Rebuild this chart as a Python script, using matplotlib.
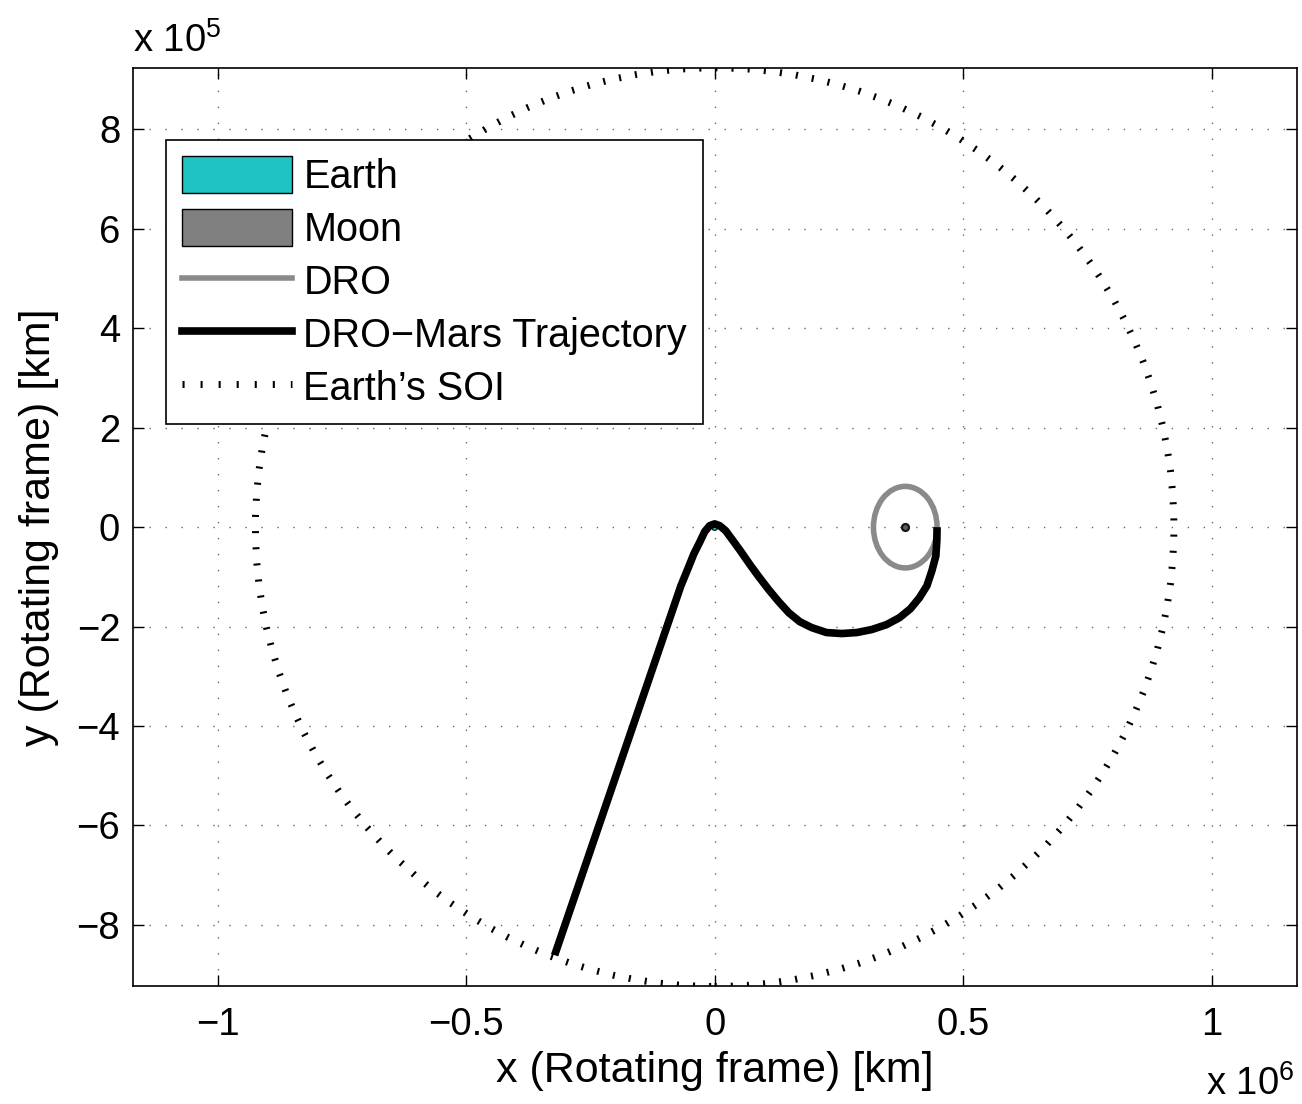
import matplotlib
matplotlib.use("Agg")
import matplotlib.pyplot as plt
from matplotlib.patches import Circle, Ellipse, Patch
from matplotlib.lines import Line2D
import matplotlib.ticker as ticker

plt.rcParams['font.family'] = ['Liberation Sans', 'DejaVu Sans']
plt.rcParams['mathtext.fontset'] = 'custom'
plt.rcParams['mathtext.rm'] = 'Liberation Sans'

# Datos (km)
soi_radius = 9.24e5
earth_radius = 6371.0
moon_x = 3.835e5
dro_half_x = 0.064e6
dro_half_y = 0.82e5

# Trayectoria DRO-Marte (x en 1e6 km, y en 1e5 km)
traj_x = [0.4475, 0.447, 0.445, 0.437, 0.427, 0.412, 0.394, 0.372, 0.346, 0.316,
          0.286, 0.256, 0.225, 0.195, 0.171, 0.149, 0.129, 0.109, 0.089, 0.070,
          0.052, 0.036, 0.022, 0.010, 0.000, -0.010, -0.020, -0.030, -0.042,
          -0.054, -0.068, -0.322]
traj_y = [0.00, -0.28, -0.58, -0.88, -1.18, -1.42, -1.64, -1.82, -1.96, -2.06,
          -2.12, -2.14, -2.12, -2.02, -1.90, -1.72, -1.50, -1.26, -1.00, -0.74,
          -0.48, -0.26, -0.07, 0.03, 0.066, 0.03, -0.09, -0.30, -0.54,
          -0.84, -1.18, -8.61]

x_ticks = [-1.0, -0.5, 0.0, 0.5, 1.0]
y_ticks = [-8, -6, -4, -2, 0, 2, 4, 6, 8]

fig = plt.figure(figsize=(13.02, 11.04), dpi=100)
ax = fig.add_axes([0.1019, 0.1069, 0.8940, 0.8312])

# Esfera de influencia de la Tierra
soi = Circle((0, 0), soi_radius, fill=False, edgecolor='k', lw=5,
             linestyle=(0, (0.3, 2.03)))
ax.add_patch(soi)

# DRO
dro = Ellipse((moon_x, 0), 2 * dro_half_x, 2 * dro_half_y, fill=False,
              edgecolor='#8a8a8a', lw=4.0, zorder=3)
ax.add_patch(dro)

# Tierra
earth = Circle((0, 0), earth_radius, facecolor='#1ec4c4', edgecolor='k',
               lw=0.8, zorder=3)
ax.add_patch(earth)

ax.plot([v * 1e6 for v in traj_x], [v * 1e5 for v in traj_y], color='k',
        lw=5.5, solid_capstyle='butt', solid_joinstyle='round', zorder=4)

# Luna
ax.plot([moon_x], [0], marker='o', ms=5, mfc='#606060', mec='#151515',
        mew=1.6, zorder=5)

ax.set_xlim(-1.171e6, 1.171e6)
ax.set_ylim(-9.23e5, 9.23e5)

ax.set_xticks([v * 1e6 for v in x_ticks])
ax.set_yticks([v * 1e5 for v in y_ticks])
ax.xaxis.set_major_formatter(ticker.FuncFormatter(
    lambda v, p: f"{v / 1e6:g}".replace('-', '\u2212')))
ax.yaxis.set_major_formatter(ticker.FuncFormatter(
    lambda v, p: f"{v / 1e5:g}".replace('-', '\u2212')))

ax.tick_params(direction='in', length=8, width=1.0, top=True, right=True,
               labelsize=27.5, colors='k')
ax.tick_params(axis='x', pad=15)
ax.tick_params(axis='y', pad=9)
for s in ax.spines.values():
    s.set_linewidth(1.2)

ax.grid(True, color='0.4', linestyle=(0, (1, 10.5)), lw=1.0)
ax.set_axisbelow(True)

# Etiquetas
fig.text(0.549, 0.020, 'x (Rotating frame) [km]', ha='center', va='baseline',
         fontsize=31)
fig.text(0.030, 0.5226, 'y (Rotating frame) [km]', ha='center', va='center',
         rotation=90, fontsize=31)
fig.text(0.102, 0.953, r'x 10$^{5}$', ha='left', va='baseline', fontsize=27.5)
fig.text(0.926, 0.0085, r'x 10$^{6}$', ha='left', va='baseline', fontsize=27.5)

handles = [
    Patch(facecolor='#1ec4c4', edgecolor='k', lw=1.0),
    Patch(facecolor='#808080', edgecolor='k', lw=1.0),
    Line2D([], [], color='#8a8a8a', lw=4.0),
    Line2D([], [], color='k', lw=5.5),
    Line2D([], [], color='k', lw=5.0, linestyle=(0, (0.3, 2.3))),
]
labels = ['Earth', 'Moon', 'DRO', 'DRO\u2212Mars Trajectory', "Earth\u2019s SOI"]
leg = ax.legend(handles, labels, loc='upper left',
                bbox_to_anchor=(0.0290, 0.9216), borderaxespad=0,
                fontsize=28.5, fancybox=False, framealpha=1, edgecolor='k',
                handlelength=2.78, handleheight=1.05, handletextpad=0.28,
                labelspacing=0.33, borderpad=0.4)
leg.get_frame().set_linewidth(1.2)

fig.savefig('out.png', dpi=100, facecolor='white')
